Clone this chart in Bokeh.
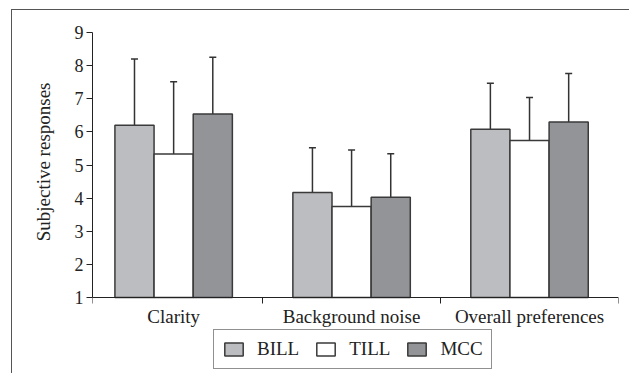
from bokeh.plotting import figure
from bokeh.models import Range1d, FixedTicker, Whisker, TeeHead, ColumnDataSource, Legend, LegendItem, Title
from bokeh.embed import file_html
from bokeh.resources import INLINE

categories = ["Clarity", "Background noise", "Overall preferences"]
series = ["BILL", "TILL", "MCC"]
bill_mean = [6.20, 4.17, 6.08]
till_mean = [5.33, 3.75, 5.74]
mcc_mean = [6.54, 4.03, 6.30]
bill_sd = [2.00, 1.35, 1.39]
till_sd = [2.18, 1.70, 1.30]
mcc_sd = [1.71, 1.31, 1.46]
y_ticks = [1, 2, 3, 4, 5, 6, 7, 8, 9]
y_label = "Subjective responses"

colors = ["#bcbdc1", "#ffffff", "#939498"]
means = [bill_mean, till_mean, mcc_mean]
sds = [bill_sd, till_sd, mcc_sd]

FONT = "Liberation Serif"
x0 = 0.044
FH = 341
ymin = 9 - FH / 33.125

p = figure(frame_width=526, frame_height=FH, output_backend="svg", toolbar_location=None,
           x_range=Range1d(x0, 3.0), y_range=Range1d(ymin, 9),
           min_border_left=77, min_border_right=12, min_border_top=22, min_border_bottom=0)
p.styles = {"border-top": "1px solid #555", "border-left": "1px solid #555",
            "margin-left": "11px", "margin-top": "9px"}
p.outline_line_color = None
p.xgrid.visible = False
p.ygrid.visible = False

bw = 0.22
offsets = [-bw, 0.0, bw]
renderers = []
for i, s in enumerate(series):
    xs = [k + 0.5 + offsets[i] for k in range(len(categories))]
    tops = means[i]
    uppers = [m + d for m, d in zip(means[i], sds[i])]
    src = ColumnDataSource(dict(x=xs, top=tops, upper=uppers))
    r = p.vbar(x="x", width=bw, bottom=1, top="top", source=src,
               fill_color=colors[i], line_color="#3a3a3a", line_width=1.5)
    renderers.append(r)
    w = Whisker(base="x", lower="top", upper="upper", source=src,
                line_color="#333333", line_width=1.5,
                upper_head=TeeHead(size=7, line_color="#333333", line_width=1.5),
                lower_head=None)
    p.add_layout(w)

# y axis
p.yaxis.ticker = FixedTicker(ticks=y_ticks, minor_ticks=[])
p.yaxis.bounds = (1, 9)
p.yaxis.major_label_text_font = FONT
p.yaxis.major_label_text_font_size = "18px"
p.yaxis.major_label_standoff = 3
p.yaxis.major_tick_out = 6
p.yaxis.major_tick_in = 0
p.yaxis.axis_line_color = "#222222"
p.yaxis.major_tick_line_color = "#222222"
p.yaxis.major_label_text_color = "#222222"

ytitle = Title(text=y_label, align="right", offset=50, standoff=36,
               text_font=FONT, text_font_size="19px", text_font_style="normal",
               text_color="#222222")
p.add_layout(ytitle, "left")

# x axis, fixed at y = 1
p.xaxis.fixed_location = 1
p.xaxis.ticker = FixedTicker(ticks=[0.5, 1.5, 2.5], minor_ticks=[x0, 1, 2, 3])
p.xaxis.major_label_overrides = {0.5: categories[0], 1.5: categories[1], 2.5: categories[2]}
p.xaxis.major_tick_line_color = None
p.xaxis.minor_tick_out = 6
p.xaxis.minor_tick_in = 0
p.xaxis.minor_tick_line_color = "#222222"
p.xaxis.axis_line_color = "#222222"
p.xaxis.major_label_text_font = FONT
p.xaxis.major_label_text_font_size = "19px"
p.xaxis.major_label_text_color = "#222222"
p.xaxis.major_label_standoff = 2

legend = Legend(items=[LegendItem(label=s, renderers=[r]) for s, r in zip(series, renderers)],
                orientation="horizontal", location=(121, 4),
                glyph_width=23, glyph_height=16, label_standoff=12, spacing=15,
                padding=8, margin=0,
                label_text_font=FONT, label_text_font_size="19px", label_text_color="#222222",
                border_line_color="#222222", border_line_width=1.2,
                background_fill_alpha=1.0)
p.add_layout(legend)

open("out.html", "w").write(file_html(p, INLINE))
